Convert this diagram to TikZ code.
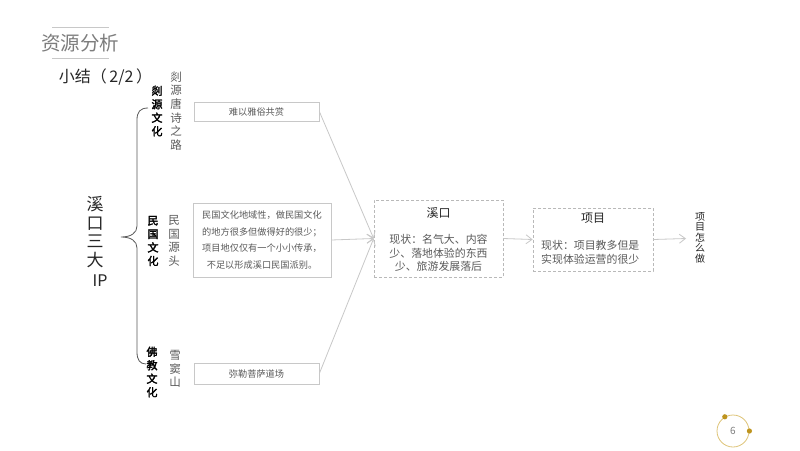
\documentclass[tikz,border=0pt]{standalone}
\usepackage{fontspec}
\setmainfont{Noto Sans CJK SC}
\newfontfamily\cjkbold[FakeBold=2.5]{Noto Sans CJK SC}
\usetikzlibrary{arrows.meta}
\definecolor{boxline}{RGB}{200,200,200}
\definecolor{dashline}{RGB}{185,185,185}
\definecolor{txtgray}{RGB}{90,90,90}
\definecolor{ttlgray}{RGB}{125,125,125}
\definecolor{gold}{RGB}{190,148,30}
\definecolor{goldlight}{RGB}{222,196,120}
\tikzset{
  x=1pt,y=-1pt,
  plainbox/.style={draw=boxline,line width=0.7pt,inner sep=0pt,text=txtgray},
  dashbox/.style={draw=dashline,dash pattern=on 3pt off 2pt,line width=0.7pt,inner sep=0pt},
  conn/.style={draw=boxline,line width=0.8pt,-{Straight Barb[length=6pt,width=9pt]}},
  catlabel/.style={font=\cjkbold\fontsize{11}{13.5}\selectfont,align=center,inner sep=0pt,text=black},
  sublabel/.style={font=\fontsize{11.5}{13.6}\selectfont,align=center,inner sep=0pt,text=txtgray},
}
\begin{document}
\begin{tikzpicture}
\useasboundingbox[fill=white] (0,0) rectangle (800,450);

% title
\node[font=\fontsize{19.5}{22}\selectfont,text=ttlgray,inner sep=0pt] (title) at (80,43) {资源分析};
\draw[boxline,line width=0.8pt] (52,27) -- (109,27);
\draw[boxline,line width=0.8pt] (52,58) -- (109,58);
\node[font=\fontsize{16}{18}\selectfont,text=black!85,inner sep=0pt] (sub) at (105.5,77) {小结（\kern2.5pt2/2\kern2.5pt）};

% left big label
\node[font=\fontsize{17}{18.5}\selectfont,align=center,inner sep=0pt,text=black!85] (ip) at (95,232) {溪\\口\\三\\大};
\node[font=\fontsize{16}{18}\selectfont,inner sep=0pt,text=black!85] (ipl) at (100,281) {IP};

% brace
\draw[txtgray,line width=0.8pt] (148,108) .. controls (140,108) and (137,112) .. (137,120) -- (137,226)
  .. controls (137,233) and (131,237) .. (121,237) .. controls (131,237) and (137,241) .. (137,248)
  -- (137,352) .. controls (137,360) and (140,364) .. (146,364);

% category labels
\node[catlabel] (c1) at (157,111) {剡\\源\\文\\化};
\node[sublabel] (s1) at (176,111) {剡\\源\\唐\\诗\\之\\路};
\node[catlabel] (c2) at (153,241) {民\\国\\文\\化};
\node[sublabel] (s2) at (174,241) {民\\国\\源\\头};
\node[catlabel] (c3) at (152,372) {佛\\教\\文\\化};
\node[sublabel] (s3) at (175,369) {雪\\窦\\山};

% boxes
\node[plainbox,minimum width=125pt,minimum height=19pt,font=\fontsize{9.2}{11}\selectfont] (b1) at (256.5,111.5) {难以雅俗共赏};
\node[plainbox,minimum width=138pt,minimum height=74pt,font=\fontsize{9.2}{16.5}\selectfont,align=center] (b2) at (262,240) {民国文化地域性，做民国文化\\的地方很多但做得好的很少；\\项目地仅仅有一个小小传承，\\不足以形成溪口民国派别。};
\node[plainbox,minimum width=125pt,minimum height=21pt,font=\fontsize{9.2}{11}\selectfont] (b3) at (256.5,373.5) {弥勒菩萨道场};

% dashed boxes
\node[dashbox,minimum width=129pt,minimum height=77pt] (xk) at (438.5,238.5) {};
\node[font=\fontsize{12}{14}\selectfont,text=black!85,inner sep=0pt] (xkt) at (438.5,213) {溪口};
\node[font=\fontsize{10.9}{13.5}\selectfont,text=txtgray,align=center,inner sep=0pt] (xkb) at (438.5,253) {现状：名气大、内容\\少、落地体验的东西\\少、旅游发展落后};

\node[dashbox,minimum width=120pt,minimum height=63pt] (xm) at (593,239.5) {};
\node[font=\fontsize{12}{14}\selectfont,text=black!85,inner sep=0pt] (xmt) at (593,218) {项目};
\node[font=\fontsize{10.9}{13.5}\selectfont,text=txtgray,align=left,inner sep=0pt,anchor=west] (xmb) at (541,252.5) {现状：项目教多但是\\实现体验运营的很少};

\node[font=\fontsize{10}{10.5}\selectfont,text=black!85,align=center,inner sep=0pt] (how) at (700,237.5) {项\\目\\怎\\么\\做};
\coordinate (howin) at (686,238.5);

% connectors
\draw[conn] (b1.east) -- (xk.west);
\draw[conn] (b2.east) -- (xk.west);
\draw[conn] (b3.east) -- (xk.west);
\draw[conn] (xk.east) -- (xm.west);
\draw[conn] (xm.east) -- (howin);

% page number
\node[draw=goldlight,line width=0.8pt,circle,minimum size=32pt,inner sep=0pt,font=\fontsize{10}{12}\selectfont,text=ttlgray] (pg) at (733,431) {6};
\fill[gold] (pg.120) circle (2.6pt);
\fill[gold] (pg.east) circle (2.6pt);
\end{tikzpicture}
\end{document}
